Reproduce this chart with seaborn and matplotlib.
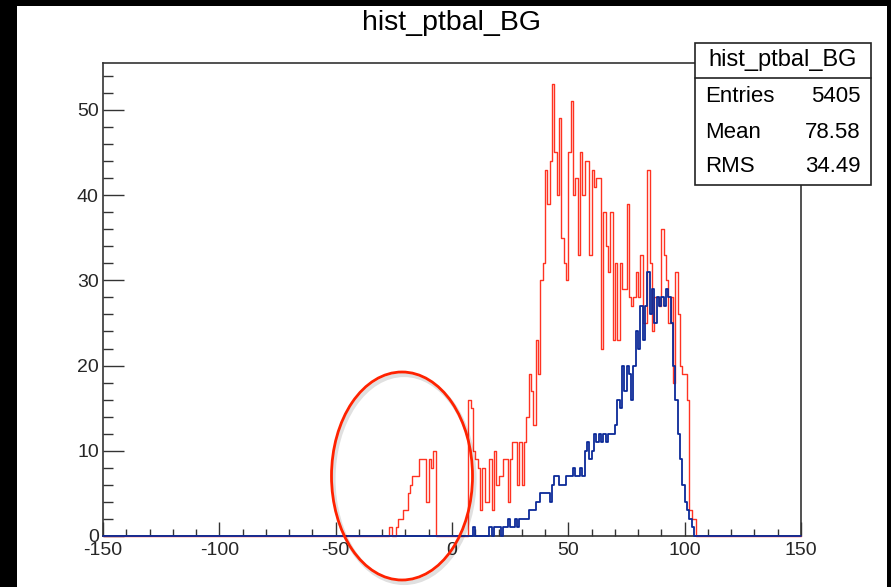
import numpy as np
import pandas as pd
import matplotlib
matplotlib.use("Agg")
import matplotlib.pyplot as plt
from matplotlib.patches import Rectangle, Ellipse
from matplotlib.lines import Line2D
from matplotlib.ticker import MultipleLocator
import seaborn as sns

# ---------------- data ----------------
title = "hist_ptbal_BG"
stats_title = "hist_ptbal_BG"
stats_labels = ["Entries", "Mean", "RMS"]
stats_values = ["5405", "78.58", "34.49"]
x_ticks = [-150, -100, -50, 0, 50, 100, 150]
y_ticks = [0, 10, 20, 30, 40, 50]

bin_lo, bin_hi, bin_width = -150, 150, 1

# red histogram: counts per 1-unit bin, first bin starts at red_first_bin
red_first_bin = -27
red_counts = [1, 0, 0, 1, 2, 2, 3, 3, 5, 6, 7, 7, 7, 9, 9, 9, 4, 9, 8, 10,      # -27 .. -8
              0, 0, 0, 0, 0, 0, 0, 0, 0, 0, 0, 0, 0, 0,                           # -7 .. 6
              16, 15, 10, 9, 8, 3, 8, 4, 4, 9, 3, 10, 6, 7, 7, 9, 9, 4, 9, 11,   # 7 .. 26
              11, 6, 11, 6, 11, 14, 19, 17, 13,                                   # 27 .. 35
              23, 19, 30, 32, 43, 39, 44, 53, 45, 40, 49, 35, 32, 30, 45, 51,    # 36 .. 51
              40, 42, 33, 45,                                                     # 52 .. 55
              40, 44, 44, 33, 43, 41, 42, 42, 22, 38, 34, 31, 38, 23, 32, 23,    # 56 .. 71
              32, 29, 29, 39, 28, 27, 28, 31, 28, 33, 25, 25, 43, 32, 24, 28,    # 72 .. 87
              28, 27, 36, 33, 30, 25, 28, 18, 31, 26, 20, 19, 19, 16, 3, 2, 2]  # 88 .. 104

# blue histogram
blue_first_bin = 9
blue_counts = [1, 0, 0, 0, 0, 0, 0, 1, 0, 1, 1, 1, 0, 1, 1, 2, 1, 1, 2, 1,        # 9 .. 28
               2, 2, 2, 2, 3, 3, 3, 4, 4, 5, 5, 5, 5, 4, 6, 7, 7, 6, 6, 6,        # 29 .. 48
               7, 7, 7, 8, 7, 7, 8, 7, 10, 11, 9, 10, 12, 11, 12, 11, 12, 11,     # 49 .. 66
               12, 12, 12, 13, 16, 15, 20, 17, 20, 19, 16, 20, 24, 22, 27, 23,    # 67 .. 82
               27, 31, 26, 29, 25, 28, 27, 28, 27, 29, 28, 25, 20, 16, 12, 9,     # 83 .. 98
               6, 4, 3, 2, 1]                                                      # 99 .. 103

# ---------------- build tables ----------------
edges = np.arange(bin_lo, bin_hi + bin_width, bin_width)
centers = edges[:-1] + bin_width / 2.0
nbins = len(centers)

def full_counts(first, counts):
    arr = np.zeros(nbins)
    i0 = int((first - bin_lo) / bin_width)
    arr[i0:i0 + len(counts)] = counts
    return arr

df_red = pd.DataFrame({"pt": centers, "count": full_counts(red_first_bin, red_counts)})
df_blue = pd.DataFrame({"pt": centers, "count": full_counts(blue_first_bin, blue_counts)})

# ---------------- figure ----------------
W, H = 891, 587
FONT = "Liberation Sans"
sns.set_style("ticks")
plt.rcParams["font.family"] = [FONT, "DejaVu Sans"]

fig = plt.figure(figsize=(W / 100, H / 100), dpi=100, facecolor="black")

def fx(px):
    return px / W

def fy(py):
    return 1 - py / H

# white canvas inside black border
fig.patches.append(Rectangle((fx(17), 0), fx(887) - fx(17), fy(6), transform=fig.transFigure,
                             facecolor="white", edgecolor="none", zorder=-5))

ax_l, ax_r, ax_t, ax_b = 103, 801, 63, 536
ax = fig.add_axes([fx(ax_l), fy(ax_b), fx(ax_r) - fx(ax_l), fy(ax_t) - fy(ax_b)])
ax.set_zorder(1)
ax.set_facecolor("white")

sns.histplot(data=df_red, x="pt", weights="count", binwidth=bin_width, binrange=(bin_lo, bin_hi),
             element="step", fill=False, color="#ff3322", linewidth=1.0, ax=ax,
             clip_on=False, zorder=3)
sns.histplot(data=df_blue, x="pt", weights="count", binwidth=bin_width, binrange=(bin_lo, bin_hi),
             element="step", fill=False, color="#0c2a98", linewidth=1.3, ax=ax,
             clip_on=False, zorder=4)

ax.set_xlim(bin_lo, bin_hi)
ax.set_ylim(0, 55.5)
ax.set_xlabel("")
ax.set_ylabel("")

ax.set_xticks(x_ticks)
ax.set_xticklabels([str(t) for t in x_ticks])
ax.set_yticks(y_ticks)
ax.set_yticklabels([str(t) for t in y_ticks])
ax.xaxis.set_minor_locator(MultipleLocator(10))
ax.yaxis.set_minor_locator(MultipleLocator(2))

tick_col = "#333333"
ax.tick_params(axis="x", which="major", direction="in", length=10, width=1.0, color=tick_col,
               labelsize=14, pad=4, top=False)
ax.tick_params(axis="x", which="minor", direction="in", length=5, width=1.0, color=tick_col, top=False)
ax.tick_params(axis="y", which="major", direction="in", length=15, width=1.0, color=tick_col,
               labelsize=14, pad=3, right=False)
ax.tick_params(axis="y", which="minor", direction="in", length=7.5, width=1.0, color=tick_col, right=False)

for s in ax.spines.values():
    s.set_visible(True)
    s.set_color("#333333")
    s.set_linewidth(1.2)

# title
fig.text(fx(451), fy(23), title, ha="center", va="center", fontsize=20.5, color="black")

# stats box
bx0, bx1, by0, by1, bhead = 695, 871, 43, 185, 78
fig.patches.append(Rectangle((fx(bx0), fy(by1)), fx(bx1) - fx(bx0), fy(by0) - fy(by1),
                             transform=fig.transFigure, facecolor="white", edgecolor="#222222",
                             linewidth=1.2, zorder=10))
fig.lines.append(Line2D([fx(bx0), fx(bx1)], [fy(bhead), fy(bhead)], transform=fig.transFigure,
                        color="#222222", linewidth=1.2, zorder=11))
fig.text(fx((bx0 + bx1) / 2), fy(60), stats_title, ha="center", va="center", fontsize=17,
         color="black", zorder=12)
for i, (lab, val) in enumerate(zip(stats_labels, stats_values)):
    yy = 97 + 35 * i
    fig.text(fx(705), fy(yy), lab, ha="left", va="center", fontsize=16, color="black", zorder=12)
    fig.text(fx(861), fy(yy), val, ha="right", va="center", fontsize=16, color="black", zorder=12)

# hand-drawn red ellipse annotation (with faint drop shadow)
fig.patches.append(Ellipse((fx(404), fy(479)), fx(141), 208 / H, transform=fig.transFigure,
                           fill=False, edgecolor="#000000", alpha=0.12, linewidth=3.0, zorder=19))
fig.patches.append(Ellipse((fx(402), fy(476)), fx(141), 208 / H, transform=fig.transFigure,
                           fill=False, edgecolor="#ff2200", linewidth=2.0, zorder=20))

fig.savefig("out.png", dpi=100, facecolor=fig.get_facecolor())
